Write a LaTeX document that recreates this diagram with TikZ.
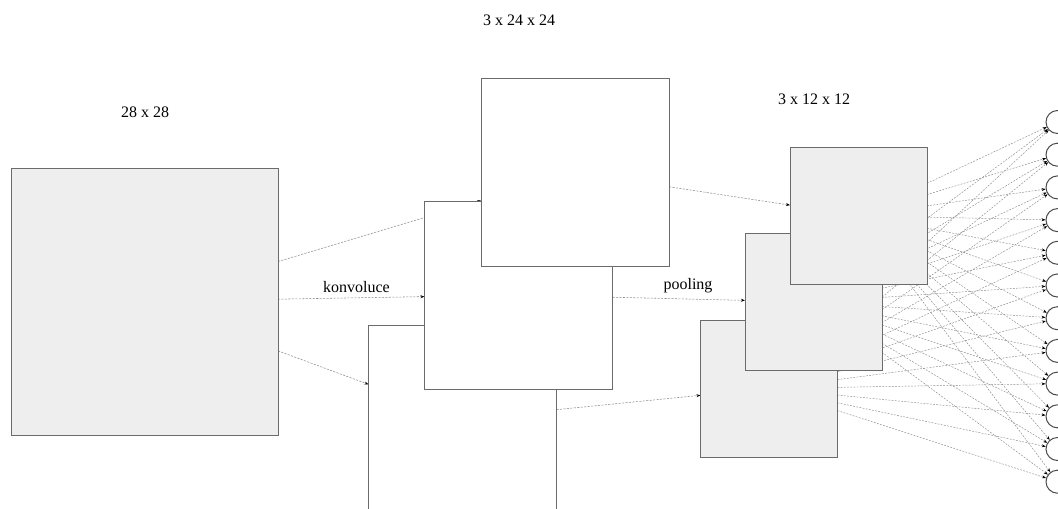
\documentclass[tikz,border=0pt]{standalone}
\usepackage{fontspec}
\setmainfont{Liberation Serif}
\usetikzlibrary{arrows.meta}
\pgfdeclarelayer{links}
\pgfsetlayers{links,main}
\definecolor{edge}{HTML}{6B6B6B}
\definecolor{mapfill}{HTML}{EEEEEE}
\definecolor{wire}{HTML}{8C8C8C}
\definecolor{ring}{HTML}{4A4A4A}
\begin{document}
\begin{tikzpicture}[x=0.75pt,y=-0.75pt,
  fmap/.style={draw=edge, line width=0.75pt, inner sep=0pt, outer sep=0pt},
  inmap/.style={fmap, fill=mapfill, minimum size=200.25pt},
  convmap/.style={fmap, fill=white, minimum size=141pt},
  poolmap/.style={fmap, fill=mapfill, minimum size=102.75pt},
  neuron/.style={circle, draw=ring, line width=0.75pt, fill=white, inner sep=0pt, minimum size=17.25pt},
  caption/.style={inner sep=0pt, font=\fontsize{12}{14}\selectfont},
  flow/.style={draw=wire, line width=0.4pt, dash pattern=on 1.6pt off 1pt,
    -{Stealth[length=3pt,width=2.2pt,black]}},
  fc/.style={draw=wire, line width=0.35pt, dash pattern=on 1.4pt off 1pt,
    -{Stealth[length=3pt,width=2.2pt,black]}}]

\useasboundingbox (0,0) rectangle (1058,508);
\clip (0,0) rectangle (1058,508);

% input image
\node[inmap] (img) at (144.5,301.5) {};
\node[caption] (limg) at (145,112) {28 x 28};

% convolution feature maps (back to front)
\node[convmap] (cc) at (462.5,419) {};
\node[convmap] (cb) at (518.5,295) {};
\node[convmap] (ca) at (575,172.5) {};
\node[caption] (lconv) at (519,20) {3 x 24 x 24};

% pooled feature maps (back to front)
\node[poolmap] (pc) at (769,388.5) {};
\node[poolmap] (pb) at (813.5,302) {};
\node[poolmap] (pa) at (858.5,215.5) {};
\node[caption] (lpool) at (814,99) {3 x 12 x 12};

% output neurons
\foreach \i in {1,...,12}
  \node[neuron] (n\i) at (1057.5,{122+32.7*(\i-1)}) {};

% operation labels
\node[caption] (lk) at (356.5,287) {konvoluce};
\node[caption] (lp) at (688,286) {pooling};

\begin{pgfonlayer}{links}
  \draw[flow] (img) -- (ca);
  \draw[flow] (img) -- (cb);
  \draw[flow] (img) -- (cc);
  \draw[flow] (ca) -- (pa);
  \draw[flow] (cb) -- (pb);
  \draw[flow] (cc) -- (pc);
  \foreach \p in {pa,pb,pc}
    \foreach \i in {1,...,12}
      \draw[fc] (\p) -- (n\i);
\end{pgfonlayer}
\end{tikzpicture}
\end{document}
